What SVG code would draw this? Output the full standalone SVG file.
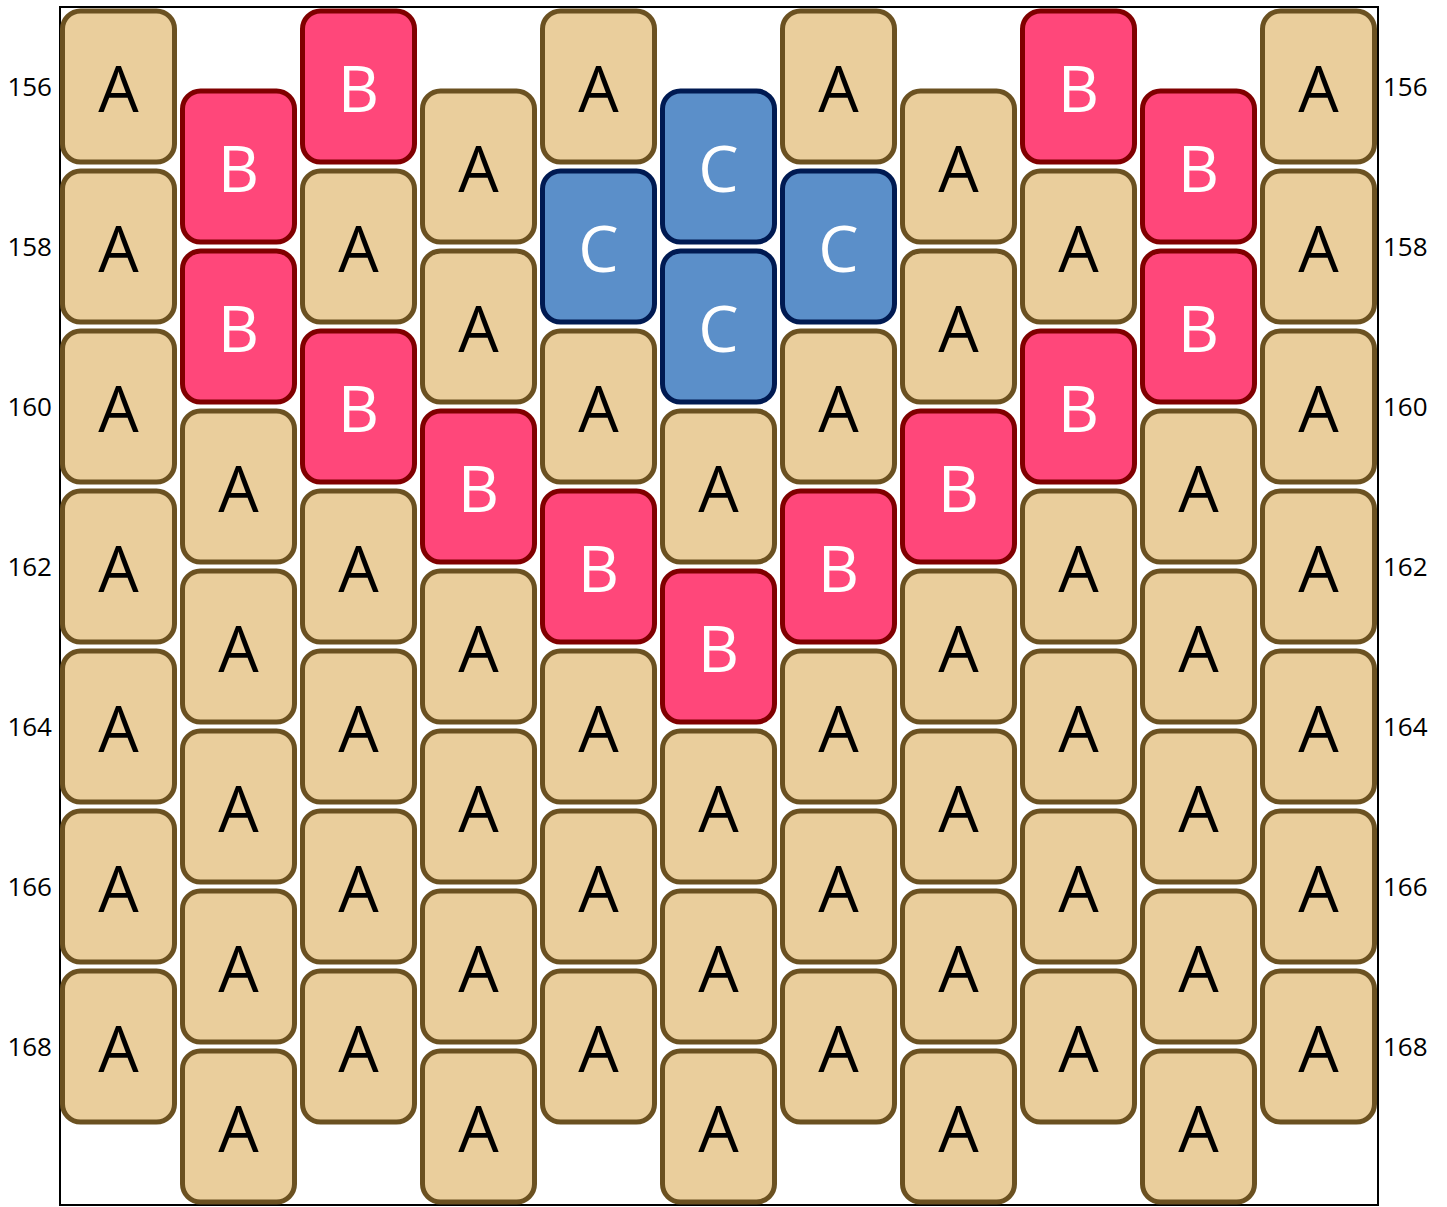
<svg xmlns="http://www.w3.org/2000/svg" width="1447" height="1207" viewBox="0 0 1447 1207">
<style>
rect.b{stroke-width:5;}
.A rect{fill:#EACE9C;stroke:#6B5121;}
.B rect{fill:#FF477A;stroke:#800000;}
.C rect{fill:#5B8FC9;stroke:#001A52;}
.A text{fill:#000;}
.B text,.C text{fill:#fff;}
text.l{font-family:"Open Sans","Noto Sans",sans-serif;font-size:64px;text-anchor:middle;}
text.r{font-family:"Open Sans","Noto Sans",sans-serif;font-size:26px;fill:#000;}
</style>
<rect x="60" y="7" width="1318" height="1198" fill="#fff" stroke="#000" stroke-width="2"/>
<g id="labels">
<text class="r" x="52" y="96" text-anchor="end">156</text>
<text class="r" x="52" y="256" text-anchor="end">158</text>
<text class="r" x="52" y="416" text-anchor="end">160</text>
<text class="r" x="52" y="576" text-anchor="end">162</text>
<text class="r" x="52" y="736" text-anchor="end">164</text>
<text class="r" x="52" y="896" text-anchor="end">166</text>
<text class="r" x="52" y="1056" text-anchor="end">168</text>
<text class="r" x="1383" y="96">156</text>
<text class="r" x="1383" y="256">158</text>
<text class="r" x="1383" y="416">160</text>
<text class="r" x="1383" y="576">162</text>
<text class="r" x="1383" y="736">164</text>
<text class="r" x="1383" y="896">166</text>
<text class="r" x="1383" y="1056">168</text>
</g>
<g id="connectors"/>
<!-- column 0 -->
<g id="b0_0" class="A"><rect class="b" x="62.5" y="11" width="112" height="151" rx="18"/><text class="l" x="118.5" y="112">A</text></g>
<g id="b0_1" class="A"><rect class="b" x="62.5" y="171" width="112" height="151" rx="18"/><text class="l" x="118.5" y="272">A</text></g>
<g id="b0_2" class="A"><rect class="b" x="62.5" y="331" width="112" height="151" rx="18"/><text class="l" x="118.5" y="432">A</text></g>
<g id="b0_3" class="A"><rect class="b" x="62.5" y="491" width="112" height="151" rx="18"/><text class="l" x="118.5" y="592">A</text></g>
<g id="b0_4" class="A"><rect class="b" x="62.5" y="651" width="112" height="151" rx="18"/><text class="l" x="118.5" y="752">A</text></g>
<g id="b0_5" class="A"><rect class="b" x="62.5" y="811" width="112" height="151" rx="18"/><text class="l" x="118.5" y="912">A</text></g>
<g id="b0_6" class="A"><rect class="b" x="62.5" y="971" width="112" height="151" rx="18"/><text class="l" x="118.5" y="1072">A</text></g>
<!-- column 1 -->
<g id="b1_0" class="B"><rect class="b" x="182.5" y="91" width="112" height="151" rx="18"/><text class="l" x="238.5" y="192">B</text></g>
<g id="b1_1" class="B"><rect class="b" x="182.5" y="251" width="112" height="151" rx="18"/><text class="l" x="238.5" y="352">B</text></g>
<g id="b1_2" class="A"><rect class="b" x="182.5" y="411" width="112" height="151" rx="18"/><text class="l" x="238.5" y="512">A</text></g>
<g id="b1_3" class="A"><rect class="b" x="182.5" y="571" width="112" height="151" rx="18"/><text class="l" x="238.5" y="672">A</text></g>
<g id="b1_4" class="A"><rect class="b" x="182.5" y="731" width="112" height="151" rx="18"/><text class="l" x="238.5" y="832">A</text></g>
<g id="b1_5" class="A"><rect class="b" x="182.5" y="891" width="112" height="151" rx="18"/><text class="l" x="238.5" y="992">A</text></g>
<g id="b1_6" class="A"><rect class="b" x="182.5" y="1051" width="112" height="151" rx="18"/><text class="l" x="238.5" y="1152">A</text></g>
<!-- column 2 -->
<g id="b2_0" class="B"><rect class="b" x="302.5" y="11" width="112" height="151" rx="18"/><text class="l" x="358.5" y="112">B</text></g>
<g id="b2_1" class="A"><rect class="b" x="302.5" y="171" width="112" height="151" rx="18"/><text class="l" x="358.5" y="272">A</text></g>
<g id="b2_2" class="B"><rect class="b" x="302.5" y="331" width="112" height="151" rx="18"/><text class="l" x="358.5" y="432">B</text></g>
<g id="b2_3" class="A"><rect class="b" x="302.5" y="491" width="112" height="151" rx="18"/><text class="l" x="358.5" y="592">A</text></g>
<g id="b2_4" class="A"><rect class="b" x="302.5" y="651" width="112" height="151" rx="18"/><text class="l" x="358.5" y="752">A</text></g>
<g id="b2_5" class="A"><rect class="b" x="302.5" y="811" width="112" height="151" rx="18"/><text class="l" x="358.5" y="912">A</text></g>
<g id="b2_6" class="A"><rect class="b" x="302.5" y="971" width="112" height="151" rx="18"/><text class="l" x="358.5" y="1072">A</text></g>
<!-- column 3 -->
<g id="b3_0" class="A"><rect class="b" x="422.5" y="91" width="112" height="151" rx="18"/><text class="l" x="478.5" y="192">A</text></g>
<g id="b3_1" class="A"><rect class="b" x="422.5" y="251" width="112" height="151" rx="18"/><text class="l" x="478.5" y="352">A</text></g>
<g id="b3_2" class="B"><rect class="b" x="422.5" y="411" width="112" height="151" rx="18"/><text class="l" x="478.5" y="512">B</text></g>
<g id="b3_3" class="A"><rect class="b" x="422.5" y="571" width="112" height="151" rx="18"/><text class="l" x="478.5" y="672">A</text></g>
<g id="b3_4" class="A"><rect class="b" x="422.5" y="731" width="112" height="151" rx="18"/><text class="l" x="478.5" y="832">A</text></g>
<g id="b3_5" class="A"><rect class="b" x="422.5" y="891" width="112" height="151" rx="18"/><text class="l" x="478.5" y="992">A</text></g>
<g id="b3_6" class="A"><rect class="b" x="422.5" y="1051" width="112" height="151" rx="18"/><text class="l" x="478.5" y="1152">A</text></g>
<!-- column 4 -->
<g id="b4_0" class="A"><rect class="b" x="542.5" y="11" width="112" height="151" rx="18"/><text class="l" x="598.5" y="112">A</text></g>
<g id="b4_1" class="C"><rect class="b" x="542.5" y="171" width="112" height="151" rx="18"/><text class="l" x="598.5" y="272">C</text></g>
<g id="b4_2" class="A"><rect class="b" x="542.5" y="331" width="112" height="151" rx="18"/><text class="l" x="598.5" y="432">A</text></g>
<g id="b4_3" class="B"><rect class="b" x="542.5" y="491" width="112" height="151" rx="18"/><text class="l" x="598.5" y="592">B</text></g>
<g id="b4_4" class="A"><rect class="b" x="542.5" y="651" width="112" height="151" rx="18"/><text class="l" x="598.5" y="752">A</text></g>
<g id="b4_5" class="A"><rect class="b" x="542.5" y="811" width="112" height="151" rx="18"/><text class="l" x="598.5" y="912">A</text></g>
<g id="b4_6" class="A"><rect class="b" x="542.5" y="971" width="112" height="151" rx="18"/><text class="l" x="598.5" y="1072">A</text></g>
<!-- column 5 -->
<g id="b5_0" class="C"><rect class="b" x="662.5" y="91" width="112" height="151" rx="18"/><text class="l" x="718.5" y="192">C</text></g>
<g id="b5_1" class="C"><rect class="b" x="662.5" y="251" width="112" height="151" rx="18"/><text class="l" x="718.5" y="352">C</text></g>
<g id="b5_2" class="A"><rect class="b" x="662.5" y="411" width="112" height="151" rx="18"/><text class="l" x="718.5" y="512">A</text></g>
<g id="b5_3" class="B"><rect class="b" x="662.5" y="571" width="112" height="151" rx="18"/><text class="l" x="718.5" y="672">B</text></g>
<g id="b5_4" class="A"><rect class="b" x="662.5" y="731" width="112" height="151" rx="18"/><text class="l" x="718.5" y="832">A</text></g>
<g id="b5_5" class="A"><rect class="b" x="662.5" y="891" width="112" height="151" rx="18"/><text class="l" x="718.5" y="992">A</text></g>
<g id="b5_6" class="A"><rect class="b" x="662.5" y="1051" width="112" height="151" rx="18"/><text class="l" x="718.5" y="1152">A</text></g>
<!-- column 6 -->
<g id="b6_0" class="A"><rect class="b" x="782.5" y="11" width="112" height="151" rx="18"/><text class="l" x="838.5" y="112">A</text></g>
<g id="b6_1" class="C"><rect class="b" x="782.5" y="171" width="112" height="151" rx="18"/><text class="l" x="838.5" y="272">C</text></g>
<g id="b6_2" class="A"><rect class="b" x="782.5" y="331" width="112" height="151" rx="18"/><text class="l" x="838.5" y="432">A</text></g>
<g id="b6_3" class="B"><rect class="b" x="782.5" y="491" width="112" height="151" rx="18"/><text class="l" x="838.5" y="592">B</text></g>
<g id="b6_4" class="A"><rect class="b" x="782.5" y="651" width="112" height="151" rx="18"/><text class="l" x="838.5" y="752">A</text></g>
<g id="b6_5" class="A"><rect class="b" x="782.5" y="811" width="112" height="151" rx="18"/><text class="l" x="838.5" y="912">A</text></g>
<g id="b6_6" class="A"><rect class="b" x="782.5" y="971" width="112" height="151" rx="18"/><text class="l" x="838.5" y="1072">A</text></g>
<!-- column 7 -->
<g id="b7_0" class="A"><rect class="b" x="902.5" y="91" width="112" height="151" rx="18"/><text class="l" x="958.5" y="192">A</text></g>
<g id="b7_1" class="A"><rect class="b" x="902.5" y="251" width="112" height="151" rx="18"/><text class="l" x="958.5" y="352">A</text></g>
<g id="b7_2" class="B"><rect class="b" x="902.5" y="411" width="112" height="151" rx="18"/><text class="l" x="958.5" y="512">B</text></g>
<g id="b7_3" class="A"><rect class="b" x="902.5" y="571" width="112" height="151" rx="18"/><text class="l" x="958.5" y="672">A</text></g>
<g id="b7_4" class="A"><rect class="b" x="902.5" y="731" width="112" height="151" rx="18"/><text class="l" x="958.5" y="832">A</text></g>
<g id="b7_5" class="A"><rect class="b" x="902.5" y="891" width="112" height="151" rx="18"/><text class="l" x="958.5" y="992">A</text></g>
<g id="b7_6" class="A"><rect class="b" x="902.5" y="1051" width="112" height="151" rx="18"/><text class="l" x="958.5" y="1152">A</text></g>
<!-- column 8 -->
<g id="b8_0" class="B"><rect class="b" x="1022.5" y="11" width="112" height="151" rx="18"/><text class="l" x="1078.5" y="112">B</text></g>
<g id="b8_1" class="A"><rect class="b" x="1022.5" y="171" width="112" height="151" rx="18"/><text class="l" x="1078.5" y="272">A</text></g>
<g id="b8_2" class="B"><rect class="b" x="1022.5" y="331" width="112" height="151" rx="18"/><text class="l" x="1078.5" y="432">B</text></g>
<g id="b8_3" class="A"><rect class="b" x="1022.5" y="491" width="112" height="151" rx="18"/><text class="l" x="1078.5" y="592">A</text></g>
<g id="b8_4" class="A"><rect class="b" x="1022.5" y="651" width="112" height="151" rx="18"/><text class="l" x="1078.5" y="752">A</text></g>
<g id="b8_5" class="A"><rect class="b" x="1022.5" y="811" width="112" height="151" rx="18"/><text class="l" x="1078.5" y="912">A</text></g>
<g id="b8_6" class="A"><rect class="b" x="1022.5" y="971" width="112" height="151" rx="18"/><text class="l" x="1078.5" y="1072">A</text></g>
<!-- column 9 -->
<g id="b9_0" class="B"><rect class="b" x="1142.5" y="91" width="112" height="151" rx="18"/><text class="l" x="1198.5" y="192">B</text></g>
<g id="b9_1" class="B"><rect class="b" x="1142.5" y="251" width="112" height="151" rx="18"/><text class="l" x="1198.5" y="352">B</text></g>
<g id="b9_2" class="A"><rect class="b" x="1142.5" y="411" width="112" height="151" rx="18"/><text class="l" x="1198.5" y="512">A</text></g>
<g id="b9_3" class="A"><rect class="b" x="1142.5" y="571" width="112" height="151" rx="18"/><text class="l" x="1198.5" y="672">A</text></g>
<g id="b9_4" class="A"><rect class="b" x="1142.5" y="731" width="112" height="151" rx="18"/><text class="l" x="1198.5" y="832">A</text></g>
<g id="b9_5" class="A"><rect class="b" x="1142.5" y="891" width="112" height="151" rx="18"/><text class="l" x="1198.5" y="992">A</text></g>
<g id="b9_6" class="A"><rect class="b" x="1142.5" y="1051" width="112" height="151" rx="18"/><text class="l" x="1198.5" y="1152">A</text></g>
<!-- column 10 -->
<g id="b10_0" class="A"><rect class="b" x="1262.5" y="11" width="112" height="151" rx="18"/><text class="l" x="1318.5" y="112">A</text></g>
<g id="b10_1" class="A"><rect class="b" x="1262.5" y="171" width="112" height="151" rx="18"/><text class="l" x="1318.5" y="272">A</text></g>
<g id="b10_2" class="A"><rect class="b" x="1262.5" y="331" width="112" height="151" rx="18"/><text class="l" x="1318.5" y="432">A</text></g>
<g id="b10_3" class="A"><rect class="b" x="1262.5" y="491" width="112" height="151" rx="18"/><text class="l" x="1318.5" y="592">A</text></g>
<g id="b10_4" class="A"><rect class="b" x="1262.5" y="651" width="112" height="151" rx="18"/><text class="l" x="1318.5" y="752">A</text></g>
<g id="b10_5" class="A"><rect class="b" x="1262.5" y="811" width="112" height="151" rx="18"/><text class="l" x="1318.5" y="912">A</text></g>
<g id="b10_6" class="A"><rect class="b" x="1262.5" y="971" width="112" height="151" rx="18"/><text class="l" x="1318.5" y="1072">A</text></g>
</svg>
